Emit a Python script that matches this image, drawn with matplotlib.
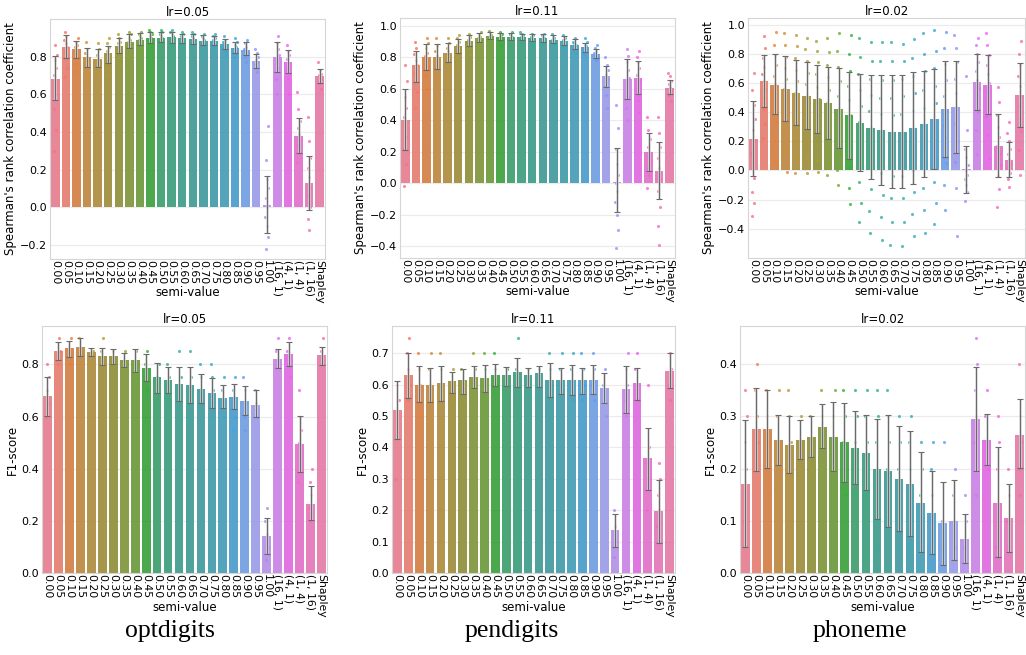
"""Semi-value comparison grid: Spearman rank correlation (top) and F1-score (bottom)
for optdigits / pendigits / phoneme, one learning rate per dataset."""

import matplotlib
matplotlib.use("Agg")
import matplotlib.pyplot as plt
import numpy as np
import seaborn as sns

W, H = 1026, 655

CATS = ["0.00", "0.05", "0.10", "0.15", "0.20", "0.25", "0.30", "0.35", "0.40",
        "0.45", "0.50", "0.55", "0.60", "0.65", "0.70", "0.75", "0.80", "0.85",
        "0.90", "0.95", "1.00", "(16, 1)", "(4, 1)", "(1, 4)", "(1, 16)", "Shapley"]
DATASETS = ["optdigits", "pendigits", "phoneme"]
LRS = ["lr=0.05", "lr=0.11", "lr=0.02"]

# ---- optdigits, Spearman ----
OPT_RHO_MEAN = [0.683, 0.853, 0.841, 0.796, 0.789, 0.820, 0.859, 0.880, 0.890, 0.901, 0.901, 0.903, 0.898,
                0.892, 0.885, 0.883, 0.866, 0.846, 0.834, 0.775, 0.012, 0.796, 0.772, 0.378, 0.128, 0.697]
OPT_RHO_LO = [0.568, 0.795, 0.795, 0.745, 0.745, 0.768, 0.818, 0.848, 0.860, 0.875, 0.878, 0.875, 0.875,
              0.866, 0.862, 0.860, 0.842, 0.822, 0.810, 0.741, -0.137, 0.718, 0.711, 0.289, -0.016, 0.662]
OPT_RHO_HI = [0.804, 0.913, 0.883, 0.848, 0.839, 0.857, 0.901, 0.922, 0.928, 0.931, 0.933, 0.933, 0.922,
              0.919, 0.913, 0.910, 0.896, 0.878, 0.878, 0.816, 0.168, 0.878, 0.835, 0.472, 0.271, 0.733]
OPT_RHO_PTS = [
    [0.30, 0.41, 0.52, 0.60, 0.66, 0.70, 0.74, 0.78, 0.81, 0.86],
    [0.69, 0.74, 0.80, 0.83, 0.85, 0.87, 0.89, 0.91, 0.93],
    [0.72, 0.76, 0.80, 0.83, 0.85, 0.86, 0.88, 0.90],
    [0.66, 0.70, 0.75, 0.78, 0.80, 0.82, 0.84, 0.88],
    [0.65, 0.70, 0.74, 0.77, 0.79, 0.81, 0.84, 0.87],
    [0.70, 0.74, 0.78, 0.81, 0.83, 0.85, 0.87, 0.90],
    [0.76, 0.80, 0.83, 0.85, 0.87, 0.88, 0.90, 0.92],
    [0.80, 0.84, 0.86, 0.88, 0.89, 0.90, 0.92, 0.93],
    [0.83, 0.85, 0.87, 0.89, 0.90, 0.91, 0.92, 0.93],
    [0.85, 0.87, 0.89, 0.90, 0.91, 0.92, 0.93, 0.94],
    [0.86, 0.88, 0.89, 0.90, 0.91, 0.92, 0.93, 0.94],
    [0.86, 0.88, 0.89, 0.90, 0.91, 0.92, 0.93, 0.94],
    [0.85, 0.87, 0.89, 0.90, 0.91, 0.92, 0.93],
    [0.85, 0.87, 0.88, 0.89, 0.90, 0.91, 0.92, 0.93],
    [0.84, 0.86, 0.87, 0.88, 0.89, 0.90, 0.91, 0.92],
    [0.83, 0.85, 0.87, 0.88, 0.89, 0.90, 0.91, 0.92],
    [0.81, 0.83, 0.85, 0.86, 0.87, 0.88, 0.89, 0.91],
    [0.80, 0.82, 0.83, 0.84, 0.85, 0.86, 0.88, 0.90],
    [0.77, 0.80, 0.82, 0.83, 0.84, 0.85, 0.87, 0.89],
    [0.72, 0.74, 0.76, 0.77, 0.78, 0.80, 0.82, 0.84],
    [-0.22, -0.16, -0.10, -0.05, 0.00, 0.05, 0.10, 0.15, 0.25, 0.43],
    [0.60, 0.68, 0.74, 0.78, 0.81, 0.84, 0.87, 0.91],
    [0.60, 0.68, 0.73, 0.76, 0.79, 0.81, 0.83, 0.86],
    [0.24, 0.29, 0.33, 0.36, 0.39, 0.42, 0.46, 0.52, 0.61],
    [-0.12, -0.06, 0.00, 0.06, 0.11, 0.16, 0.21, 0.26, 0.35, 0.48],
    [0.63, 0.66, 0.68, 0.69, 0.70, 0.71, 0.73, 0.77],
]

# ---- pendigits, Spearman ----
PEN_RHO_MEAN = [0.401, 0.749, 0.800, 0.804, 0.829, 0.871, 0.905, 0.924, 0.935, 0.930, 0.930, 0.928, 0.922,
                0.922, 0.909, 0.901, 0.880, 0.863, 0.823, 0.679, 0.011, 0.660, 0.669, 0.196, 0.078, 0.608]
PEN_RHO_LO = [0.213, 0.643, 0.719, 0.728, 0.770, 0.829, 0.871, 0.897, 0.914, 0.908, 0.908, 0.908, 0.904,
              0.900, 0.890, 0.876, 0.850, 0.833, 0.797, 0.614, -0.184, 0.534, 0.570, 0.080, -0.099, 0.565]
PEN_RHO_HI = [0.597, 0.840, 0.886, 0.882, 0.892, 0.918, 0.945, 0.956, 0.962, 0.956, 0.956, 0.950, 0.950,
              0.950, 0.939, 0.935, 0.914, 0.893, 0.854, 0.745, 0.222, 0.791, 0.776, 0.319, 0.264, 0.656]
PEN_RHO_PTS = [
    [-0.02, 0.12, 0.22, 0.30, 0.37, 0.42, 0.48, 0.55, 0.65, 0.75],
    [0.48, 0.58, 0.65, 0.70, 0.75, 0.78, 0.82, 0.86, 0.90],
    [0.60, 0.68, 0.74, 0.78, 0.81, 0.83, 0.86, 0.89, 0.92],
    [0.63, 0.69, 0.74, 0.78, 0.81, 0.84, 0.87, 0.92],
    [0.66, 0.72, 0.77, 0.81, 0.84, 0.86, 0.89, 0.92],
    [0.76, 0.81, 0.84, 0.86, 0.88, 0.90, 0.92, 0.94],
    [0.82, 0.86, 0.88, 0.90, 0.91, 0.93, 0.95],
    [0.86, 0.89, 0.91, 0.92, 0.93, 0.94, 0.96],
    [0.88, 0.91, 0.92, 0.93, 0.94, 0.95, 0.97],
    [0.88, 0.91, 0.92, 0.93, 0.94, 0.95, 0.96],
    [0.88, 0.91, 0.92, 0.93, 0.94, 0.95, 0.96],
    [0.89, 0.91, 0.92, 0.93, 0.94, 0.95, 0.96],
    [0.88, 0.90, 0.91, 0.92, 0.93, 0.94, 0.95],
    [0.88, 0.90, 0.91, 0.92, 0.93, 0.94, 0.95],
    [0.86, 0.88, 0.90, 0.91, 0.92, 0.93, 0.95],
    [0.85, 0.87, 0.89, 0.90, 0.91, 0.92, 0.94],
    [0.83, 0.85, 0.87, 0.88, 0.89, 0.90, 0.92],
    [0.82, 0.84, 0.85, 0.86, 0.87, 0.88, 0.90, 0.92],
    [0.78, 0.80, 0.81, 0.82, 0.83, 0.84, 0.86, 0.88],
    [0.48, 0.56, 0.62, 0.66, 0.69, 0.72, 0.75, 0.80],
    [-0.41, -0.30, -0.20, -0.12, -0.05, 0.00, 0.05, 0.12, 0.22, 0.35, 0.50],
    [0.40, 0.48, 0.55, 0.62, 0.67, 0.72, 0.77, 0.81, 0.85],
    [0.45, 0.53, 0.60, 0.65, 0.69, 0.73, 0.77, 0.80, 0.84],
    [-0.03, 0.05, 0.10, 0.15, 0.19, 0.23, 0.28, 0.34, 0.42],
    [-0.39, -0.27, -0.15, -0.05, 0.03, 0.10, 0.16, 0.23, 0.32, 0.42],
    [0.52, 0.56, 0.59, 0.61, 0.63, 0.65, 0.68, 0.70],
]

# ---- phoneme, Spearman ----
PHO_RHO_MEAN = [0.217, 0.610, 0.587, 0.559, 0.532, 0.509, 0.491, 0.463, 0.422, 0.377, 0.326, 0.292, 0.274,
                0.263, 0.267, 0.292, 0.320, 0.354, 0.422, 0.434, 0.009, 0.605, 0.587, 0.171, 0.073, 0.514]
PHO_RHO_LO = [-0.041, 0.434, 0.388, 0.338, 0.313, 0.285, 0.256, 0.217, 0.153, 0.080, -0.007, -0.057, -0.098,
              -0.119, -0.119, -0.091, -0.046, 0.007, 0.091, 0.121, -0.155, 0.416, 0.388, -0.046, -0.046, 0.297]
PHO_RHO_HI = [0.477, 0.792, 0.795, 0.783, 0.760, 0.742, 0.726, 0.712, 0.701, 0.678, 0.658, 0.651, 0.651,
              0.651, 0.655, 0.678, 0.685, 0.696, 0.747, 0.753, 0.171, 0.795, 0.792, 0.388, 0.194, 0.735]
PHO_RHO_PTS = [
    [-0.31, -0.22, -0.15, -0.05, 0.05, 0.12, 0.20, 0.28, 0.35, 0.45, 0.55, 0.67],
    [0.22, 0.32, 0.42, 0.50, 0.56, 0.61, 0.66, 0.71, 0.77, 0.84, 0.92],
    [0.07, 0.20, 0.33, 0.43, 0.52, 0.59, 0.65, 0.72, 0.79, 0.86, 0.95],
    [-0.01, 0.13, 0.27, 0.38, 0.47, 0.56, 0.63, 0.70, 0.78, 0.86, 0.94],
    [-0.02, 0.10, 0.23, 0.35, 0.45, 0.53, 0.61, 0.69, 0.77, 0.85, 0.93],
    [-0.02, 0.08, 0.20, 0.32, 0.42, 0.51, 0.59, 0.67, 0.75, 0.83, 0.91],
    [-0.01, 0.07, 0.18, 0.30, 0.40, 0.49, 0.57, 0.66, 0.74, 0.82, 0.89],
    [-0.03, 0.05, 0.15, 0.27, 0.37, 0.46, 0.55, 0.64, 0.72, 0.81, 0.91],
    [-0.10, 0.00, 0.12, 0.23, 0.33, 0.42, 0.51, 0.61, 0.71, 0.82, 0.94],
    [-0.23, -0.12, 0.02, 0.15, 0.27, 0.38, 0.48, 0.58, 0.68, 0.80, 0.93],
    [-0.35, -0.22, -0.08, 0.07, 0.20, 0.33, 0.44, 0.55, 0.66, 0.78, 0.91],
    [-0.43, -0.28, -0.13, 0.02, 0.15, 0.29, 0.41, 0.52, 0.63, 0.75, 0.88],
    [-0.48, -0.32, -0.17, -0.02, 0.12, 0.27, 0.39, 0.50, 0.62, 0.75, 0.88],
    [-0.51, -0.35, -0.19, -0.04, 0.11, 0.26, 0.38, 0.50, 0.62, 0.75, 0.88],
    [-0.52, -0.35, -0.19, -0.04, 0.11, 0.26, 0.39, 0.51, 0.63, 0.75, 0.87],
    [-0.45, -0.30, -0.15, 0.00, 0.14, 0.28, 0.41, 0.53, 0.65, 0.77, 0.90],
    [-0.43, -0.27, -0.12, 0.03, 0.17, 0.31, 0.43, 0.55, 0.68, 0.80, 0.94],
    [-0.37, -0.22, -0.08, 0.07, 0.21, 0.34, 0.46, 0.58, 0.70, 0.82, 0.96],
    [-0.27, -0.10, 0.05, 0.19, 0.31, 0.41, 0.51, 0.62, 0.73, 0.84, 0.95],
    [-0.45, -0.12, 0.06, 0.20, 0.32, 0.43, 0.53, 0.63, 0.74, 0.84, 0.93],
    [-0.21, -0.15, -0.10, -0.06, -0.03, 0.00, 0.04, 0.09, 0.15, 0.28, 0.65],
    [0.11, 0.28, 0.40, 0.49, 0.56, 0.62, 0.68, 0.74, 0.80, 0.86, 0.91],
    [0.08, 0.24, 0.37, 0.46, 0.54, 0.60, 0.66, 0.72, 0.79, 0.86, 0.94],
    [-0.25, -0.13, -0.04, 0.04, 0.11, 0.17, 0.23, 0.30, 0.38, 0.47, 0.57],
    [-0.11, -0.06, -0.02, 0.02, 0.05, 0.08, 0.11, 0.15, 0.20, 0.26, 0.33],
    [-0.03, 0.14, 0.27, 0.36, 0.44, 0.51, 0.58, 0.65, 0.72, 0.80, 0.89],
]

# ---- optdigits, F1 ----
OPT_F1_MEAN = [0.680, 0.851, 0.861, 0.866, 0.846, 0.831, 0.831, 0.815, 0.815, 0.786, 0.750, 0.740, 0.725,
               0.720, 0.706, 0.690, 0.671, 0.676, 0.661, 0.644, 0.140, 0.820, 0.840, 0.495, 0.265, 0.836]
OPT_F1_LO = [0.602, 0.817, 0.829, 0.832, 0.832, 0.797, 0.800, 0.791, 0.772, 0.736, 0.692, 0.689, 0.661,
             0.651, 0.651, 0.634, 0.634, 0.628, 0.604, 0.600, 0.073, 0.785, 0.795, 0.389, 0.202, 0.797]
OPT_F1_HI = [0.750, 0.884, 0.891, 0.900, 0.861, 0.864, 0.857, 0.842, 0.857, 0.838, 0.806, 0.791, 0.789,
             0.791, 0.763, 0.746, 0.720, 0.725, 0.717, 0.702, 0.211, 0.857, 0.887, 0.602, 0.332, 0.868]
OPT_F1_PTS = [
    [0.60, 0.65, 0.70, 0.75, 0.80], [0.80, 0.85, 0.90], [0.80, 0.85, 0.90], [0.80, 0.85, 0.90],
    [0.80, 0.85], [0.80, 0.85, 0.90], [0.80, 0.85], [0.80, 0.85], [0.75, 0.80, 0.85],
    [0.70, 0.75, 0.80, 0.85], [0.65, 0.70, 0.75, 0.80], [0.65, 0.70, 0.75, 0.80],
    [0.65, 0.70, 0.75, 0.85], [0.60, 0.65, 0.70, 0.75, 0.85], [0.65, 0.70, 0.75, 0.80],
    [0.60, 0.65, 0.70, 0.75, 0.80], [0.60, 0.65, 0.70, 0.75], [0.55, 0.60, 0.65, 0.70, 0.75],
    [0.55, 0.60, 0.65, 0.70, 0.75], [0.60, 0.65, 0.70], [0.05, 0.10, 0.15, 0.20, 0.25],
    [0.80, 0.85, 0.90], [0.75, 0.80, 0.85, 0.90], [0.35, 0.45, 0.50, 0.55, 0.60, 0.70],
    [0.20, 0.25, 0.30, 0.35, 0.40], [0.80, 0.85, 0.90],
]

# ---- pendigits, F1 ----
PEN_F1_MEAN = [0.520, 0.631, 0.600, 0.600, 0.605, 0.611, 0.615, 0.626, 0.620, 0.631, 0.631, 0.641, 0.631,
               0.636, 0.615, 0.615, 0.615, 0.615, 0.615, 0.590, 0.136, 0.585, 0.606, 0.365, 0.196, 0.645]
PEN_F1_LO = [0.426, 0.557, 0.544, 0.546, 0.549, 0.575, 0.570, 0.589, 0.578, 0.596, 0.596, 0.592, 0.594,
             0.594, 0.560, 0.571, 0.566, 0.571, 0.571, 0.543, 0.082, 0.509, 0.551, 0.263, 0.095, 0.589]
PEN_F1_HI = [0.612, 0.700, 0.658, 0.652, 0.658, 0.642, 0.650, 0.660, 0.662, 0.665, 0.655, 0.684, 0.653,
             0.658, 0.668, 0.654, 0.662, 0.654, 0.662, 0.636, 0.188, 0.658, 0.654, 0.463, 0.297, 0.700]
PEN_F1_PTS = [
    [0.30, 0.45, 0.50, 0.55, 0.60], [0.55, 0.60, 0.65, 0.70, 0.75], [0.50, 0.55, 0.60, 0.65, 0.70],
    [0.55, 0.60, 0.65, 0.70], [0.55, 0.60, 0.65, 0.70], [0.55, 0.60, 0.65], [0.55, 0.60, 0.65],
    [0.60, 0.65, 0.70], [0.55, 0.60, 0.65, 0.70], [0.60, 0.65, 0.70], [0.60, 0.65],
    [0.60, 0.65, 0.75], [0.60, 0.65], [0.60, 0.65], [0.55, 0.60, 0.65, 0.70], [0.60, 0.65, 0.70],
    [0.55, 0.60, 0.65, 0.70], [0.55, 0.60, 0.65, 0.70], [0.55, 0.60, 0.65, 0.70],
    [0.50, 0.55, 0.60, 0.65], [0.05, 0.10, 0.15, 0.20], [0.50, 0.55, 0.60, 0.65, 0.70],
    [0.55, 0.60, 0.65, 0.70], [0.20, 0.30, 0.35, 0.40, 0.60], [0.10, 0.15, 0.20, 0.25, 0.30, 0.35],
    [0.55, 0.60, 0.65, 0.70],
]

# ---- phoneme, F1 ----
PHO_F1_MEAN = [0.170, 0.276, 0.276, 0.255, 0.245, 0.255, 0.260, 0.280, 0.260, 0.250, 0.240, 0.230, 0.200,
               0.195, 0.180, 0.170, 0.135, 0.115, 0.095, 0.100, 0.065, 0.295, 0.255, 0.135, 0.105, 0.265]
PHO_F1_LO = [0.049, 0.196, 0.201, 0.206, 0.191, 0.218, 0.222, 0.239, 0.196, 0.175, 0.171, 0.158, 0.104,
             0.089, 0.081, 0.070, 0.041, 0.037, 0.016, 0.024, 0.019, 0.196, 0.206, 0.031, 0.041, 0.201]
PHO_F1_HI = [0.293, 0.354, 0.351, 0.303, 0.300, 0.293, 0.301, 0.323, 0.327, 0.325, 0.311, 0.302, 0.295,
             0.302, 0.282, 0.271, 0.231, 0.195, 0.175, 0.179, 0.113, 0.394, 0.305, 0.242, 0.171, 0.334]
PHO_F1_PTS = [
    [0.10, 0.20, 0.25, 0.30, 0.35], [0.20, 0.25, 0.30, 0.35, 0.40], [0.15, 0.20, 0.25, 0.30, 0.35],
    [0.20, 0.25, 0.30, 0.35], [0.20, 0.25, 0.30, 0.35], [0.20, 0.25, 0.30], [0.20, 0.25, 0.30],
    [0.20, 0.25, 0.30, 0.35], [0.15, 0.20, 0.25, 0.30, 0.35], [0.15, 0.20, 0.25, 0.30, 0.35],
    [0.15, 0.20, 0.25, 0.30, 0.35], [0.15, 0.20, 0.25, 0.30, 0.35],
    [0.05, 0.10, 0.15, 0.20, 0.25, 0.30, 0.35], [0.10, 0.15, 0.20, 0.25, 0.30, 0.35],
    [0.05, 0.10, 0.15, 0.20, 0.25, 0.30], [0.05, 0.10, 0.15, 0.20, 0.25, 0.30],
    [0.05, 0.10, 0.15, 0.20, 0.25], [0.05, 0.10, 0.15, 0.20, 0.25], [0.05, 0.10, 0.25],
    [0.05, 0.10, 0.15, 0.20], [0.05, 0.10, 0.15], [0.15, 0.25, 0.30, 0.35, 0.40, 0.45],
    [0.20, 0.25, 0.30, 0.35], [0.05, 0.10, 0.20, 0.25, 0.30], [0.05, 0.10, 0.15, 0.20],
    [0.15, 0.20, 0.25, 0.30, 0.40],
]

# axes boxes in pixels (x0, y0, x1, y1), limits and ticks
TOP_BOXES = [(50, 19, 325, 259), (400, 18, 675, 258), (748, 18, 1025, 258)]
BOT_BOXES = [(42, 326, 327, 573), (392, 326, 675, 573), (740, 326, 1025, 573)]
TOP_YLIM = [(-0.275, 1.0), (-0.475, 1.05), (-0.60, 1.045)]
BOT_YLIM = [(0, 0.947), (0, 0.787), (0, 0.473)]
TOP_TICKS = [np.arange(-0.2, 0.81, 0.2), np.arange(-0.4, 1.01, 0.2), np.arange(-0.4, 1.01, 0.2)]
BOT_TICKS = [np.arange(0, 0.81, 0.2), np.arange(0, 0.71, 0.1), np.arange(0, 0.41, 0.1)]

PALETTE = sns.color_palette("husl", len(CATS))
BAR_COLORS = [sns.desaturate(c, 0.75) for c in PALETTE]


def add_axes_px(fig, box):
    x0, y0, x1, y1 = box
    return fig.add_axes([x0 / W, 1 - y1 / H, (x1 - x0) / W, (y1 - y0) / H])


def draw_panel(ax, mean, lo, hi, pts, ylim, yticks, ylabel, title):
    x = np.arange(len(CATS))
    mean = np.array(mean)
    ax.bar(x, mean, width=0.8, color=BAR_COLORS, alpha=0.95, zorder=2)
    # deterministic strip jitter
    for i, vals in enumerate(pts):
        n = len(vals)
        off = ((np.arange(n) * 0.618 + i * 0.31) % 1 - 0.5) * 0.3
        ax.scatter(x[i] + off, vals, s=5, color=PALETTE[i], alpha=0.8,
                   linewidths=0, zorder=3)
    err = [mean - np.array(lo), np.array(hi) - mean]
    ax.errorbar(x, mean, yerr=err, fmt="none", ecolor="#dadada", elinewidth=1.8,
                capsize=0, zorder=4)
    ax.errorbar(x, mean, yerr=err, fmt="none", ecolor="#6a6a6a", elinewidth=0.8,
                capsize=2.5, capthick=0.8, zorder=5)
    ax.set_xlim(-0.5, len(CATS) - 0.5)
    ax.set_ylim(*ylim)
    ax.set_yticks(yticks)
    ax.set_yticklabels([f"{t:.1f}".replace("-", "\u2212") for t in yticks])
    ax.set_xticks(x)
    ax.set_xticklabels(CATS, rotation=-90, va="top", ha="center")
    ax.tick_params(axis="y", length=0, labelsize=8, pad=2)
    ax.tick_params(axis="x", length=0, labelsize=7.8, pad=1)
    ax.yaxis.grid(True, color="#ebebeb", lw=0.8, zorder=0)
    ax.set_axisbelow(True)
    for s in ax.spines.values():
        s.set_color("#d5d5d5")
        s.set_linewidth(0.8)
    ax.set_xlabel("semi-value", fontsize=8.5)
    ax.xaxis.set_label_coords(0.5, -0.112)
    ax.set_ylabel(ylabel, fontsize=8.5, labelpad=2)
    ax.set_title(title, fontsize=8.5, pad=2)


def main():
    plt.rcParams["font.family"] = ["DejaVu Sans"]
    fig = plt.figure(figsize=(W / 100, H / 100), dpi=100)
    rho = [(OPT_RHO_MEAN, OPT_RHO_LO, OPT_RHO_HI, OPT_RHO_PTS),
           (PEN_RHO_MEAN, PEN_RHO_LO, PEN_RHO_HI, PEN_RHO_PTS),
           (PHO_RHO_MEAN, PHO_RHO_LO, PHO_RHO_HI, PHO_RHO_PTS)]
    f1 = [(OPT_F1_MEAN, OPT_F1_LO, OPT_F1_HI, OPT_F1_PTS),
          (PEN_F1_MEAN, PEN_F1_LO, PEN_F1_HI, PEN_F1_PTS),
          (PHO_F1_MEAN, PHO_F1_LO, PHO_F1_HI, PHO_F1_PTS)]
    for j in range(3):
        ax = add_axes_px(fig, TOP_BOXES[j])
        draw_panel(ax, *rho[j], TOP_YLIM[j], TOP_TICKS[j],
                   "Spearman's rank correlation coefficient", LRS[j])
        ax = add_axes_px(fig, BOT_BOXES[j])
        draw_panel(ax, *f1[j], BOT_YLIM[j], BOT_TICKS[j], "F1-score", LRS[j])

    for name, xc in zip(DATASETS, [170, 512, 860]):
        fig.text(xc / W, 1 - 631 / H, name, ha="center", va="center",
                 fontsize=18.5, family="Liberation Serif")

    fig.savefig("out.png", dpi=100)


if __name__ == "__main__":
    main()
